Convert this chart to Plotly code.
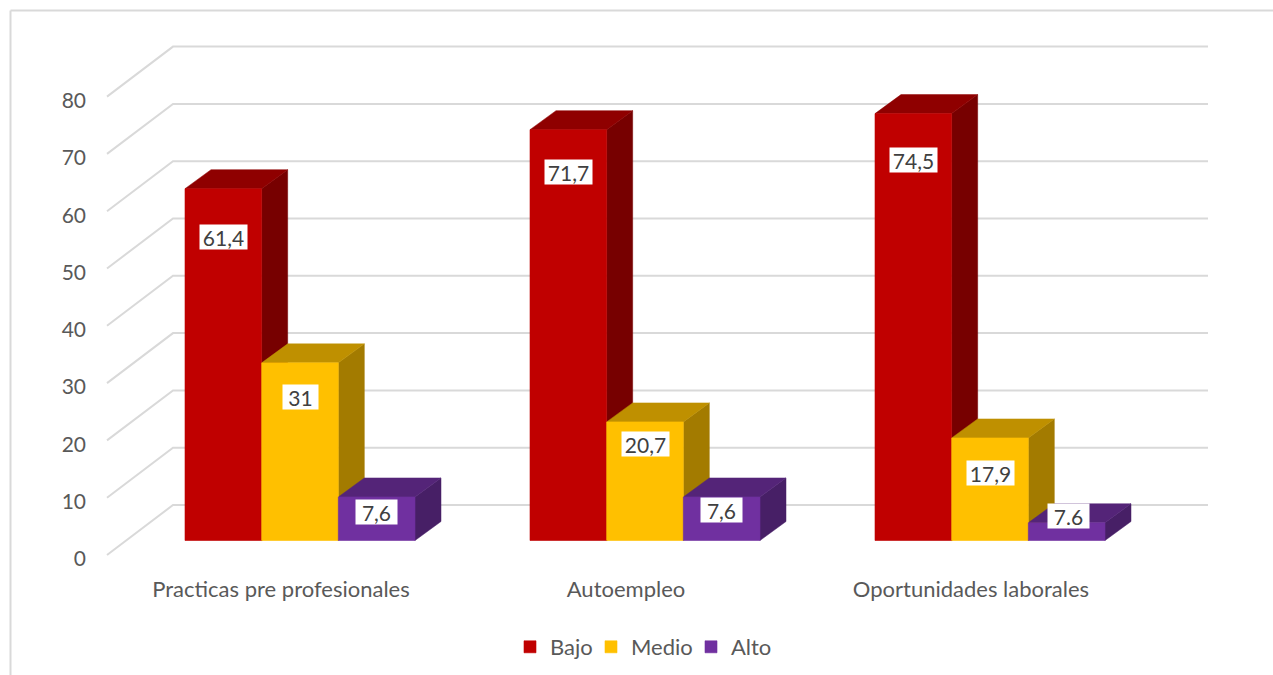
import plotly.graph_objects as go

# ---- data ----
categories = ["Practicas pre profesionales", "Autoempleo", "Oportunidades laborales"]
series_names = ["Bajo", "Medio", "Alto"]
bajo = [61.4, 71.7, 74.5]
medio = [31, 20.7, 17.9]
alto = [7.6, 7.6, 3.1]          # third bar is drawn much shorter than its printed label
bajo_labels = ["61,4", "71,7", "74,5"]
medio_labels = ["31", "20,7", "17,9"]
alto_labels = ["7,6", "7,6", "7.6"]
y_ticks = [0, 10, 20, 30, 40, 50, 60, 70, 80]

# ---- style / geometry ----
W, H = 1273, 675
FONT = "Lato, Carlito, 'Open Sans', sans-serif"
FRONT = ["#C00000", "#FFC000", "#7030A0"]
TOP = ["#8F0000", "#BF9000", "#542478"]
SIDE = ["#770000", "#A37B00", "#471F66"]
GRID = "#D9D9D9"
PX_PER_UNIT = 5.73
PX_PER_CAT = 345
CAT0_PX = 300
FLOOR_PX = 540.5
LEFT_PX, RIGHT_PX, WALL_PX = 107, 1208, 173
FRONT_FLOOR_PX, WALL_FLOOR_PX = 555, 505
PLOT_TOP_PX, PLOT_BOTTOM_PX, PLOT_LEFT_PX = 40, 570, 100
DEPTH_X = 26 / PX_PER_CAT
DEPTH_Y = 19 / PX_PER_UNIT
BAR_W = 1 / 4.5
LEGEND_SWATCH_PX = [530, 611, 711]
# pixel drop of each printed label below its bar's top, per series and category
LABEL_DROP = [[48, 42, 46], [34, 22, 35], [15, 13, -7]]

x_of = lambda px: (px - CAT0_PX) / PX_PER_CAT
y_of = lambda px: (FLOOR_PX - px) / PX_PER_UNIT
x_range = [x_of(PLOT_LEFT_PX), x_of(RIGHT_PX)]
y_range = [y_of(PLOT_BOTTOM_PX), y_of(PLOT_TOP_PX)]
x_dom = [PLOT_LEFT_PX / W, RIGHT_PX / W]
y_dom = [1 - PLOT_BOTTOM_PX / H, 1 - PLOT_TOP_PX / H]

fig = go.Figure()

# wall and side-wall gridlines
gx, gy = [], []
for t in y_ticks:
    gx += [x_of(LEFT_PX), x_of(WALL_PX), x_of(RIGHT_PX), None]
    gy += [t + y_of(FRONT_FLOOR_PX), t + y_of(WALL_FLOOR_PX), t + y_of(WALL_FLOOR_PX), None]
fig.add_trace(go.Scatter(x=gx, y=gy, mode="lines", line=dict(color=GRID, width=2),
                         showlegend=False, hoverinfo="skip"))

# depth faces (left-to-right so later bars cover earlier side faces)
all_series = [bajo, medio, alto]
for k, vals in enumerate(all_series):
    sx, sy, tx, ty = [], [], [], []
    for i, v in enumerate(vals):
        x0 = i + (k - 1.5) * BAR_W
        x1 = x0 + BAR_W
        sx += [x1, x1 + DEPTH_X, x1 + DEPTH_X, x1, x1, None]
        sy += [0, DEPTH_Y, v + DEPTH_Y, v, 0, None]
        tx += [x0, x0 + DEPTH_X, x1 + DEPTH_X, x1, x0, None]
        ty += [v, v + DEPTH_Y, v + DEPTH_Y, v, v, None]
    fig.add_trace(go.Scatter(x=sx, y=sy, mode="lines", fill="toself", fillcolor=SIDE[k],
                             line=dict(color=SIDE[k], width=0.5), showlegend=False, hoverinfo="skip"))
    fig.add_trace(go.Scatter(x=tx, y=ty, mode="lines", fill="toself", fillcolor=TOP[k],
                             line=dict(color=TOP[k], width=0.5), showlegend=False, hoverinfo="skip"))

# front faces: real bars on an overlay axis pair so they sit above the depth faces
legend_ids = ["legend", "legend2", "legend3"]
for k, vals in enumerate(all_series):
    fig.add_trace(go.Bar(x=list(range(len(categories))), y=vals, name=series_names[k],
                         marker=dict(color=FRONT[k], line=dict(width=0.6, color=FRONT[k])),
                         xaxis="x2", yaxis="y2", legend=legend_ids[k]))

# printed value labels
all_labels = [bajo_labels, medio_labels, alto_labels]
for k, vals in enumerate(all_series):
    for i, v in enumerate(vals):
        txt = all_labels[k][i]
        fig.add_annotation(x=i + (k - 1) * BAR_W + (1.5 / PX_PER_CAT if txt == "7.6" else 0),
                           y=v, xref="x", yref="y", text=txt, showarrow=False,
                           yshift=-LABEL_DROP[k][i], width=23 + 6 * len(txt), height=24,
                           bgcolor="#FFFFFF", borderpad=0,
                           font=dict(family=FONT, size=21, color="#404040"))

tick_color = "#595959"
legend_common = dict(font=dict(family=FONT, size=22, color=tick_color), itemwidth=30,
                     bgcolor="rgba(0,0,0,0)", xanchor="left", yanchor="middle",
                     y=1 - 647 / H)
fig.update_layout(
    width=W, height=H, margin=dict(l=0, r=0, t=0, b=0, autoexpand=False),
    paper_bgcolor="#FFFFFF", plot_bgcolor="rgba(0,0,0,0)",
    barmode="group", bargap=1 - 3 * BAR_W, bargroupgap=0,
    font=dict(family=FONT),
    xaxis=dict(domain=x_dom, range=x_range, showgrid=False, zeroline=False, showline=False,
               ticks="", tickmode="array", tickvals=[i - 19 / PX_PER_CAT for i in range(len(categories))],
               ticktext=categories, tickfont=dict(family=FONT, size=22, color=tick_color),
               ticklabelstandoff=4, automargin=False),
    yaxis=dict(domain=y_dom, range=y_range, showgrid=False, zeroline=False, showline=False,
               ticks="", tickmode="array", tickvals=[t + y_of(FRONT_FLOOR_PX + 4) for t in y_ticks],
               ticktext=[str(t) for t in y_ticks], tickfont=dict(family=FONT, size=21, color=tick_color),
               ticklabelstandoff=13, automargin=False),
    xaxis2=dict(domain=x_dom, range=x_range, overlaying="x", visible=False),
    yaxis2=dict(domain=y_dom, range=y_range, overlaying="y", visible=False, anchor="x2"),
    legend=dict(x=(LEGEND_SWATCH_PX[0] - 20) / W, **legend_common),
    legend2=dict(x=(LEGEND_SWATCH_PX[1] - 20) / W, **legend_common),
    legend3=dict(x=(LEGEND_SWATCH_PX[2] - 20) / W, **legend_common),
    shapes=[
        dict(type="line", xref="paper", yref="paper", x0=10.5 / W, x1=10.5 / W, y0=0, y1=1 - 10.5 / H,
             line=dict(color=GRID, width=2)),
        dict(type="line", xref="paper", yref="paper", x0=10.5 / W, x1=1, y0=1 - 10.5 / H, y1=1 - 10.5 / H,
             line=dict(color=GRID, width=2)),
    ],
)

fig.write_html("out.html", config=dict(displayModeBar=False),
               post_script="document.body.style.margin='0';document.body.style.overflow='hidden';")
